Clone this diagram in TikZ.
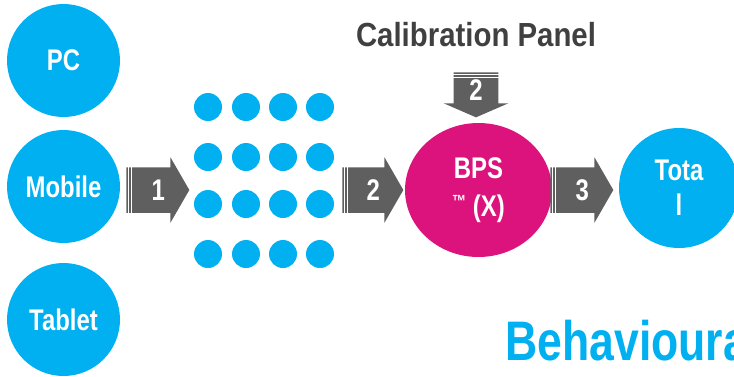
\documentclass[tikz,border=0pt]{standalone}
\usepackage{fontspec}
\setmainfont{Liberation Sans}[FakeStretch=0.8]
\newfontfamily\titlefont{Liberation Sans}[FakeStretch=0.88]
\usetikzlibrary{shapes.geometric}
\usetikzlibrary{shapes.arrows}

\definecolor{devblue}{HTML}{00B0F0}
\definecolor{bpspink}{HTML}{DC137C}
\definecolor{stepgray}{HTML}{5F5F5F}
\definecolor{titlegray}{HTML}{404040}

\tikzset{
    device/.style={shape=circle, fill=devblue, text=white, minimum size=2.26cm, inner sep=0pt,
        align=center, font=\bfseries\fontsize{17}{20}\selectfont},
    dot/.style={shape=circle, fill=devblue, minimum size=0.56cm, inner sep=0pt},
    flow/.style={shape=single arrow, anchor=tail, fill=stepgray, text=white, inner sep=2pt,
        single arrow head extend=0.2cm, single arrow tip angle=120,
        font=\bfseries\fontsize{17}{20}\selectfont},
    hflow/.style={flow, text height=16.9pt, text depth=4.6pt, minimum height=1.26cm,
        execute at begin node=\hspace*{8pt}},
    stripe/.style={white, line width=0.6pt}}

\begin{document}
\begin{tikzpicture}[x=0.02cm, y=-0.02cm]

    \useasboundingbox (0,0) rectangle (734,376);
    \clip (0,0) rectangle (734,376);

    % input devices
    \node[device] (pc) at (63.5,60.5) {PC};
    \node[device] (mobile) at (63.5,186.5) {Mobile};
    \node[device] (tablet) at (63.5,319.5) {Tablet};

    % respondents
    \foreach \x [count=\i] in {208,246,283,320}
        \foreach \y [count=\j] in {107,157,204,254}
            \node[dot] (d-\i-\j) at (\x,\y) {};

    % scoring
    \node[shape=ellipse, fill=bpspink, text=white, minimum width=2.94cm, minimum height=2.68cm,
        align=center, font=\bfseries\fontsize{17}{22}\selectfont] (bps) at (478.5,190)
        {BPS\\{\fontsize{10}{10}\selectfont\raisebox{5pt}{™}} (X)};
    \node[device, minimum size=2.4cm] (total) at (679,188) {Tota\\l};

    \node[font=\titlefont\bfseries\fontsize{19}{22}\selectfont, text=titlegray] (panel) at (476,35) {Calibration Panel};
    \node[anchor=base west, inner sep=0pt, text=devblue, font=\bfseries\fontsize{31.7}{36}\selectfont] (behav) at (505,360) {Behavioural};

    % steps
    \node[hflow] (a1) at (126,190) {1};
    \node[hflow, minimum height=1.22cm] (a2) at (342,190) {2};
    \node[hflow] (a3) at (550,190) {3};
    \node[flow, shape border rotate=270, text height=12.2pt, text depth=0pt, inner xsep=8.7pt,
        minimum height=0.9cm, single arrow tip angle=133] (a4) at (476,72) {2};

    \foreach \a in {a1,a2,a3} {
        \draw[stripe] ([shift={(2.5,-24)}]\a.tail) -- ([shift={(2.5,24)}]\a.tail);
        \draw[stripe] ([shift={(5.5,-24)}]\a.tail) -- ([shift={(5.5,24)}]\a.tail);
    }
    \draw[stripe] ([shift={(-24,2.5)}]a4.tail) -- ([shift={(24,2.5)}]a4.tail);
    \draw[stripe] ([shift={(-24,5.5)}]a4.tail) -- ([shift={(24,5.5)}]a4.tail);

\end{tikzpicture}
\end{document}
